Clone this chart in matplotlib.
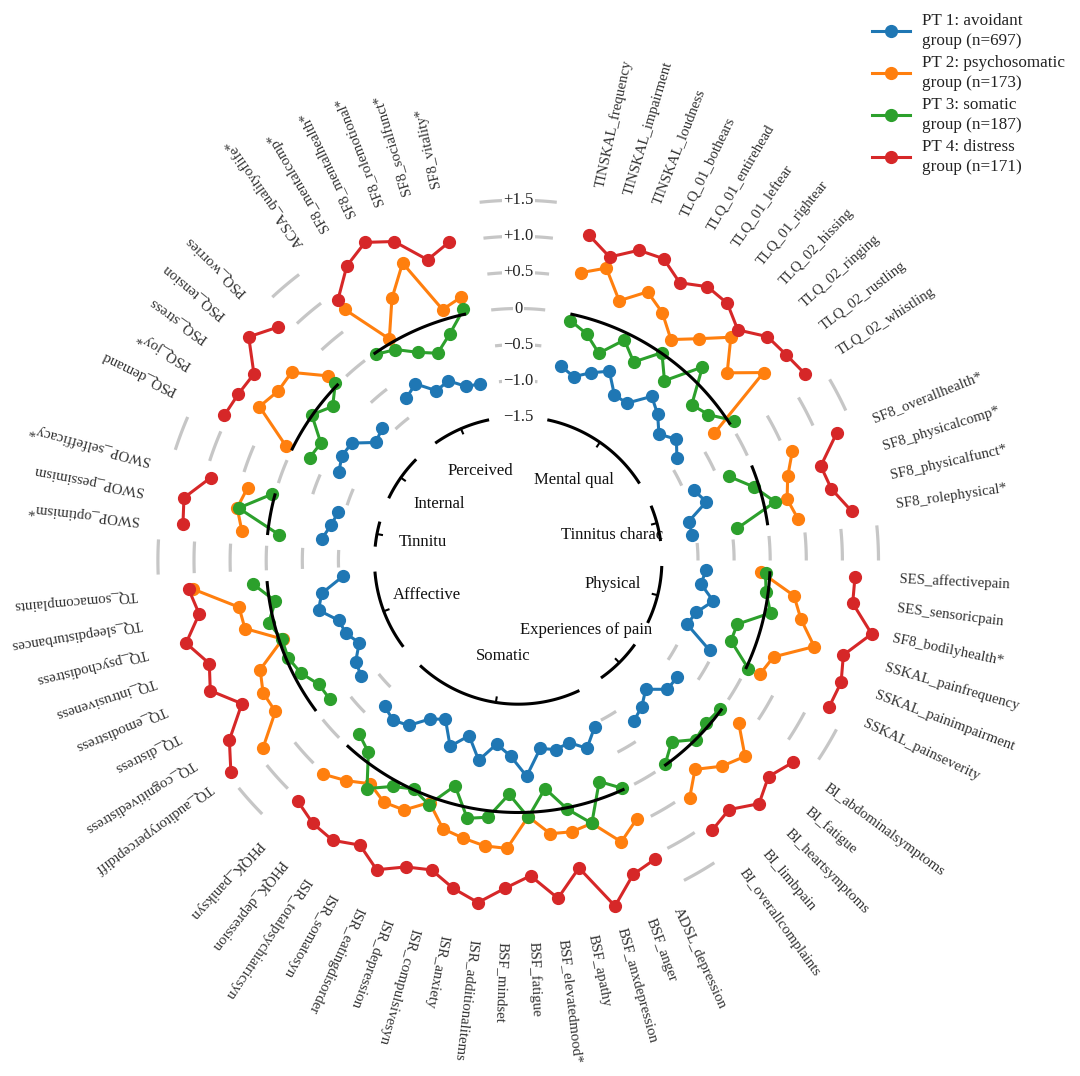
import numpy as np
import matplotlib
matplotlib.use("Agg")
import matplotlib.pyplot as plt

plt.rcParams['font.family'] = ['Liberation Serif', 'DejaVu Serif']

# variables, clockwise from the top, in their groups
variables = [
    "TINSKAL_frequency", "TINSKAL_impairment", "TINSKAL_loudness", "TLQ_01_bothears",
    "TLQ_01_entirehead", "TLQ_01_leftear", "TLQ_01_rightear", "TLQ_02_hissing",
    "TLQ_02_ringing", "TLQ_02_rustling", "TLQ_02_whistling",
    "SF8_overallhealth*", "SF8_physicalcomp*", "SF8_physicalfunct*", "SF8_rolephysical*",
    "SES_affectivepain", "SES_sensoricpain", "SF8_bodilyhealth*", "SSKAL_painfrequency",
    "SSKAL_painimpairment", "SSKAL_painseverity",
    "BI_abdominalsymptoms", "BI_fatigue", "BI_heartsymptoms", "BI_limbpain", "BI_overallcomplaints",
    "ADSL_depression", "BSF_anger", "BSF_anxdepression", "BSF_apathy", "BSF_elevatedmood*",
    "BSF_fatigue", "BSF_mindset", "ISR_additionalitems", "ISR_anxiety", "ISR_compulsivesyn",
    "ISR_depression", "ISR_eatingdisorder", "ISR_somatosyn", "ISR_totalpsychiatricsyn",
    "PHQK_depression", "PHQK_paniksyn",
    "TQ_auditoryperceptdiff", "TQ_cognitivedistress", "TQ_distress", "TQ_emodistress",
    "TQ_intrusiveness", "TQ_psychodistress", "TQ_sleepdisturbances", "TQ_somacomplaints",
    "SWOP_optimism*", "SWOP_pessimism", "SWOP_selfefficacy*",
    "PSQ_demand", "PSQ_joy*", "PSQ_stress", "PSQ_tension", "PSQ_worries",
    "ACSA_qualityoflife*", "SF8_mentalcomp*", "SF8_mentalhealth*", "SF8_rolemotional*",
    "SF8_socialfunct*", "SF8_vitality*",
]
group_sizes = [11, 4, 6, 5, 16, 8, 3, 5, 6]

avoidant = [
    -0.73, -0.83, -0.70, -0.58, -0.84, -0.84, -0.56, -0.69, -0.87, -0.73, -0.87,
    -0.87, -0.76, -1.07, -1.05,
    -0.88, -0.94, -0.73, -0.92, -0.99, -0.56,
    -0.76, -0.76, -0.98, -0.84, -0.75,
    -0.95, -0.72, -0.87, -0.82, -0.87, -0.50, -0.78, -0.93, -0.67, -0.97,
    -0.75, -1.07, -0.98, -0.75, -0.68, -0.75,
    -0.79, -0.84, -1.01, -0.90, -0.87, -0.64, -0.73, -1.06,
    -0.75, -0.85, -0.91,
    -0.72, -0.65, -0.67, -0.93, -0.86,
    -0.76, -0.66, -0.88, -0.82, -0.97, -0.99,
]
psychosomatic = [
    0.59, 0.74, 0.37, 0.64, 0.48, 0.23, 0.47, 0.78, 0.40, 0.79, -0.25,
    0.60, 0.42, 0.33, 0.43,
    -0.12, 0.36, 0.51, 0.78, 0.29, 0.21,
    0.30, 0.66, 0.52, 0.30, 0.57,
    0.45, 0.66, 0.29, 0.34, 0.32, 0.06, 0.50, 0.49, 0.43, 0.37,
    0.08, 0.31, 0.34, 0.22, 0.38, 0.52,
    0.90, 0.47, 0.49, 0.39, -0.05, 0.41, 0.43, 1.03,
    0.36, 0.47, 0.39,
    0.10, 0.68, 0.58, 0.59, 0.18,
    0.74, 0.06, 0.54, 0.93, 0.14, 0.24,
]
somatic = [
    -0.09, -0.21, -0.41, -0.10, -0.31, 0.01, -0.28, 0.21, -0.26, -0.17, 0.07,
    -0.35, -0.07, 0.16, -0.42,
    -0.06, -0.03, 0.08, -0.33, -0.34, 0.03,
    -0.02, -0.05, 0.00, -0.20, -0.01,
    -0.02, -0.23, 0.29, 0.02, -0.31, 0.07, -0.25, 0.09, 0.15, -0.25,
    0.11, -0.01, 0.09, 0.30, -0.12, -0.23,
    -0.25, -0.24, -0.10, -0.03, -0.04, 0.07, -0.08, 0.20,
    -0.16, 0.45, 0.04,
    -0.27, -0.31, 0.01, -0.15, 0.04,
    -0.02, -0.11, -0.29, -0.41, -0.21, 0.07,
]
distress = [
    1.12, 0.90, 1.12, 1.15, 0.96, 1.12, 1.10, 0.92, 1.15, 1.19, 1.25,
    1.26, 0.90, 0.96, 1.18,
    1.18, 1.18, 1.51, 1.20, 1.29, 1.27,
    1.23, 1.09, 1.25, 1.03, 1.11,
    1.06, 1.14, 1.48, 0.85, 1.22, 0.88, 1.05, 1.28, 1.14, 0.96,
    1.03, 1.22, 1.02, 1.16, 1.13, 1.03,
    1.45, 1.22, 0.82, 1.14, 1.02, 1.25, 0.99, 1.09,
    1.18, 1.22, 0.92,
    1.05, 1.02, 0.99, 1.36, 1.15,
    0.90, 1.23, 1.40, 1.25, 0.86, 1.02,
]

series_labels = ["PT 1: avoidant\ngroup (n=697)", "PT 2: psychosomatic\ngroup (n=173)",
                 "PT 3: somatic\ngroup (n=187)", "PT 4: distress\ngroup (n=171)"]
series_colors = ["#1f77b4", "#ff7f0e", "#2ca02c", "#d62728"]

ring_levels = [-1.5, -1.0, -0.5, 0.0, 0.5, 1.0, 1.5]
ring_texts = ["\u22121.5", "\u22121.0", "\u22120.5", "0", "+0.5", "+1.0", "+1.5"]

# labels of the inner circle (axes fraction positions)
inner_names = ["Perceived", "Mental qual", "Internal", "Tinnitus charac", "Tinnitu",
               "Physical", "Afffective", "Experiences of pain", "Somatic"]
inner_pos = [(0.452, 0.613), (0.570, 0.602), (0.400, 0.571), (0.618, 0.532), (0.380, 0.523),
             (0.619, 0.470), (0.385, 0.457), (0.586, 0.412), (0.481, 0.379)]

# angular layout: equal steps, 2.5-step gaps between groups, wider gap on top
step = 360 / 80.5
gap = 2.5 * step
angles = []
bounds = []
a = 2.75 * step
for n in group_sizes:
    bounds.append((len(angles), len(angles) + n))
    angles.extend(a + step * np.arange(n))
    a += (n - 1) * step + gap
theta = np.deg2rad(angles)

fig = plt.figure(figsize=(10.8, 10.76), dpi=100)
ax = fig.add_axes([0.11278, 0.11069, 0.73407, 0.73680], projection='polar')
ax.set_theta_zero_location('N')
ax.set_theta_direction(-1)
ax.set_ylim(-3.49, 2.0)
ax.axis('off')

# light grey arc pieces in the gaps
gap_edges = [(theta[bounds[i][1] - 1], theta[bounds[i + 1][0]]) for i in range(len(bounds) - 1)]
gap_edges.append((theta[-1], theta[0] + 2 * np.pi))
for t0, t1 in gap_edges:
    w = t1 - t0
    t = np.linspace(t0 + 0.25 * w, t1 - 0.25 * w, 40)
    for lvl in ring_levels[1:]:
        ax.plot(t, np.full_like(t, lvl), color='#c6c6c6', lw=2.3, solid_capstyle='butt', zorder=1)

for vals, col, lab in zip([avoidant, psychosomatic, somatic, distress], series_colors, series_labels):
    vals = np.array(vals)
    for k, (s, e) in enumerate(bounds):
        ax.plot(theta[s:e], vals[s:e], color=col, lw=2.2, marker='o', ms=8.5,
                label=lab if k == 0 else None, zorder=3)

# black arcs: zero line per group and the inner group ring
for s, e in bounds:
    t = np.linspace(theta[s], theta[e - 1], 80)
    ax.plot(t, np.zeros_like(t), color='black', lw=2.2, zorder=4)
    ax.plot(t, np.full_like(t, -1.5), color='black', lw=2.2, zorder=4)
    tm = (theta[s] + theta[e - 1]) / 2
    ax.plot([tm, tm], [-1.5, -1.57], color='black', lw=1.5, zorder=4)

for lvl, txt in zip(ring_levels, ring_texts):
    ax.text(0, lvl, txt, ha='center', va='center', fontsize=12, color='#222222', zorder=5,
            bbox=dict(facecolor='white', edgecolor='none', pad=1.0))

for th, deg, name in zip(theta, angles, variables):
    ax.text(th, 1.8, name, rotation=90 - deg, rotation_mode='anchor', ha='left', va='center',
            fontsize=10.7, color='#333333')

for name, (fx, fy) in zip(inner_names, inner_pos):
    ax.text(fx, fy, name, transform=ax.transAxes, ha='center', va='center', fontsize=12,
            color='#111111')

leg = fig.legend(loc='upper left', bbox_to_anchor=(0.8015, 0.9945), frameon=False, fontsize=12.3,
                 handlelength=2.2, handletextpad=0.7, labelspacing=0.36, borderaxespad=0)
for txt in leg.get_texts():
    txt.set_color('#222222')
    txt.set_linespacing(1.32)

fig.savefig('out.png', dpi=100)
